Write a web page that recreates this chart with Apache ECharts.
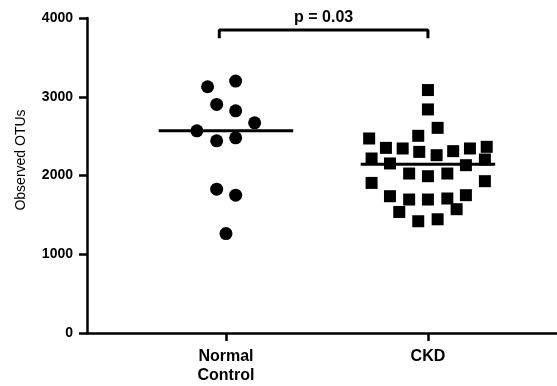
<!DOCTYPE html>
<html>
<head>
<meta charset="utf-8">
<script src="https://cdn.jsdelivr.net/npm/echarts@6/dist/echarts.min.js"></script>
<style>
html,body{margin:0;padding:0;background:#fff;}
#chart{width:557px;height:386px;}
</style>
</head>
<body>
<div id="chart"></div>
<script>
// ---- data ----
var categories = ['Normal\nControl', 'CKD'];
var categoryPos = [1, 2];
var yTicks = [0, 1000, 2000, 3000, 4000];
var normalValues = [3127, 3199, 2903, 2821, 2669, 2567, 2440, 2478, 1826, 1750, 1263];
var normalX      = [0.909, 1.048, 0.954, 1.048, 1.142, 0.856, 0.954, 1.048, 0.954, 1.048, 1.0];
var ckdValues = [3085, 2839, 2605, 2470, 2504, 2351, 2343, 2300, 2258, 2309, 2343, 2364,
                 2216, 2153, 2131, 2203, 2025, 1991, 2025, 1906, 1928,
                 1737, 1695, 1695, 1708, 1750, 1537, 1572, 1419, 1444];
var ckdX      = [2.0, 2.0, 2.048, 1.709, 1.952, 1.792, 1.875, 1.957, 2.043, 2.125, 2.208, 2.291,
                 1.721, 1.812, 2.188, 2.282, 1.907, 2.0, 2.096, 1.721, 2.282,
                 1.812, 1.907, 2.0, 2.096, 2.188, 1.858, 2.142, 1.952, 2.048];
var medians = [2567, 2142];
var medianHalfWidth = 0.333;
var pText = 'p = 0.03';
var bracketX = [0.967, 2.0];
var bracketY = [3742, 3847];
var pLabelY = 4000;

var FONT = '"Liberation Sans", Arial, sans-serif';

function pairs(xs, ys) { return ys.map(function (v, i) { return [xs[i], v]; }); }

var chart = echarts.init(document.getElementById('chart'), null, {renderer: 'canvas'});
chart.setOption({
  animation: false,
  backgroundColor: '#fff',
  grid: {left: 87, right: 0, top: 18, bottom: 53, containLabel: false},
  xAxis: {
    type: 'value', min: 0.312, max: 2.639,
    splitLine: {show: false},
    axisLine: {lineStyle: {color: '#000', width: 2.5}},
    axisTick: {show: true, customValues: categoryPos, length: 8, lineStyle: {color: '#000', width: 2.5}},
    axisLabel: {
      customValues: categoryPos, margin: 14,
      formatter: function (v) { var i = categoryPos.indexOf(Math.round(v)); return i >= 0 ? categories[i] : ''; },
      color: '#000', fontFamily: FONT, fontWeight: 'bold', fontSize: 16, lineHeight: 19
    }
  },
  yAxis: {
    type: 'value', min: yTicks[0], max: yTicks[yTicks.length - 1], interval: 1000,
    splitLine: {show: false},
    axisLine: {show: true, lineStyle: {color: '#000', width: 2.5}},
    axisTick: {show: true, length: 8, lineStyle: {color: '#000', width: 2.5}},
    axisLabel: {margin: 14, color: '#000', fontFamily: FONT, fontWeight: 'bold', fontSize: 14,
      formatter: function (v) { return String(v); }}
  },
  graphic: [{
    type: 'text', x: 21, y: 160, rotation: Math.PI / 2,
    style: {text: 'Observed OTUs', fill: '#000', font: '14px ' + FONT, textAlign: 'center', textVerticalAlign: 'middle'}
  }],
  series: [
    {type: 'scatter', data: pairs(normalX, normalValues), symbol: 'circle', symbolSize: 13,
     itemStyle: {color: '#000', opacity: 1}, z: 3},
    {type: 'scatter', data: pairs(ckdX, ckdValues), symbol: 'rect', symbolSize: 12,
     itemStyle: {color: '#000', opacity: 1}, z: 3},
    {type: 'line', data: [[categoryPos[0] - medianHalfWidth, medians[0]], [categoryPos[0] + medianHalfWidth, medians[0]]],
     symbol: 'none', lineStyle: {color: '#000', width: 3}, z: 4},
    {type: 'line', data: [[categoryPos[1] - medianHalfWidth, medians[1]], [categoryPos[1] + medianHalfWidth, medians[1]]],
     symbol: 'none', lineStyle: {color: '#000', width: 3}, z: 4},
    {type: 'line', data: [[bracketX[0], bracketY[0]], [bracketX[0], bracketY[1]], [bracketX[1], bracketY[1]], [bracketX[1], bracketY[0]]],
     symbol: 'none', lineStyle: {color: '#000', width: 3}, z: 4},
    {type: 'scatter', data: [[(bracketX[0] + bracketX[1]) / 2, pLabelY]], symbolSize: 0, clip: false,
     itemStyle: {opacity: 1},
     label: {show: true, position: 'inside', formatter: pText, color: '#000', opacity: 1, fontFamily: FONT, fontWeight: 'bold', fontSize: 16}}
  ]
});
</script>
</body>
</html>
